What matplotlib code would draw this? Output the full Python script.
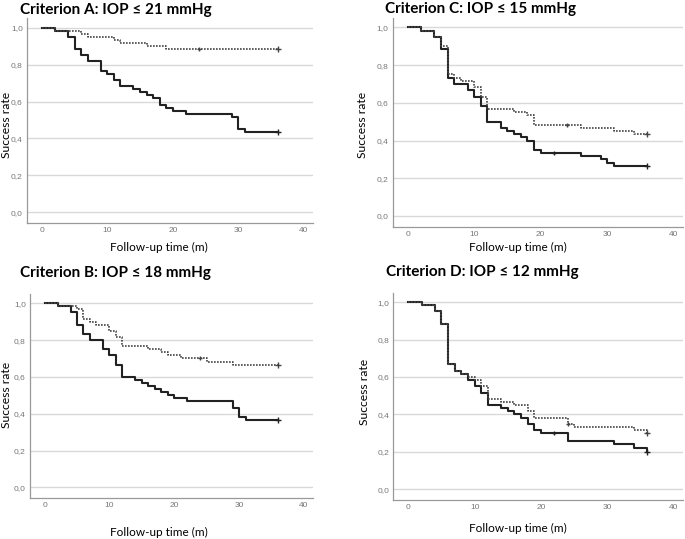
import numpy as np
import matplotlib
matplotlib.use("Agg")
import matplotlib.pyplot as plt
from matplotlib.ticker import FuncFormatter

# Kaplan-Meier step data (time in months, success rate)
a_solid_t = [0, 2, 4, 5, 6, 7, 9, 10, 11, 12, 14, 15, 16, 17, 18, 19, 20, 22, 29, 30, 31, 36]
a_solid_s = [1.0, 0.983, 0.95, 0.883, 0.85, 0.817, 0.767, 0.75, 0.717, 0.683, 0.667, 0.65,
             0.633, 0.617, 0.583, 0.567, 0.55, 0.533, 0.517, 0.45, 0.433, 0.433]
a_solid_cens = [36]
a_dot_t = [0, 2, 6, 7, 11, 12, 16, 19, 36]
a_dot_s = [1.0, 0.983, 0.967, 0.95, 0.933, 0.917, 0.9, 0.883, 0.883]
a_dot_cens = [24, 36]

b_solid_t = [0, 2, 4, 5, 6, 7, 9, 10, 11, 12, 14, 15, 16, 17, 18, 19, 20, 22, 29, 30, 31, 36]
b_solid_s = [1.0, 0.983, 0.95, 0.883, 0.833, 0.8, 0.75, 0.717, 0.667, 0.6, 0.583, 0.567,
             0.55, 0.533, 0.517, 0.5, 0.483, 0.467, 0.433, 0.383, 0.367, 0.367]
b_solid_cens = [36]
b_dot_t = [0, 2, 5, 6, 7, 8, 10, 11, 12, 16, 18, 19, 21, 25, 29, 36]
b_dot_s = [1.0, 0.983, 0.967, 0.917, 0.9, 0.883, 0.85, 0.817, 0.767, 0.75, 0.733, 0.717,
           0.7, 0.683, 0.667, 0.667]
b_dot_cens = [24, 36]

c_solid_t = [0, 2, 4, 5, 6, 7, 9, 10, 11, 12, 14, 15, 16, 17, 18, 19, 20, 26, 29, 30, 31, 36]
c_solid_s = [1.0, 0.983, 0.95, 0.883, 0.733, 0.7, 0.667, 0.633, 0.583, 0.5, 0.467, 0.45,
             0.433, 0.417, 0.4, 0.35, 0.333, 0.317, 0.3, 0.283, 0.267, 0.267]
c_solid_cens = [22, 36]
c_dot_t = [0, 2, 4, 5, 6, 7, 8, 10, 11, 12, 16, 18, 19, 26, 31, 34, 36]
c_dot_s = [1.0, 0.983, 0.95, 0.9, 0.75, 0.733, 0.717, 0.683, 0.633, 0.567, 0.55, 0.533,
           0.483, 0.467, 0.45, 0.433, 0.433]
c_dot_cens = [24, 36]

d_solid_t = [0, 2, 4, 5, 6, 7, 8, 9, 10, 11, 12, 14, 15, 16, 17, 18, 19, 20, 24, 31, 34, 36]
d_solid_s = [1.0, 0.983, 0.95, 0.883, 0.667, 0.633, 0.617, 0.583, 0.55, 0.517, 0.45, 0.433,
             0.417, 0.4, 0.383, 0.35, 0.317, 0.3, 0.26, 0.24, 0.22, 0.2]
d_solid_cens = [22, 36]
d_dot_t = [0, 2, 4, 5, 6, 7, 8, 9, 10, 11, 12, 14, 16, 18, 19, 24, 25, 34, 36]
d_dot_s = [1.0, 0.983, 0.95, 0.883, 0.667, 0.633, 0.617, 0.6, 0.583, 0.55, 0.483, 0.467,
           0.45, 0.417, 0.383, 0.35, 0.333, 0.317, 0.3]
d_dot_cens = [24, 36]

titles = ["Criterion A: IOP \u2264 21 mmHg", "Criterion B: IOP \u2264 18 mmHg",
          "Criterion C: IOP \u2264 15 mmHg", "Criterion D: IOP \u2264 12 mmHg"]
x_ticks = [0, 10, 20, 30, 40]
y_ticks = [0.0, 0.2, 0.4, 0.6, 0.8, 1.0]

W, H = 685, 539
fig = plt.figure(figsize=(W / 100, H / 100), dpi=100)
font = ["Lato", "DejaVu Sans"]


def px(x, y):
    return x / W, 1 - y / H


def step_value(t, s, at):
    i = np.searchsorted(t, at, side="right") - 1
    return s[i]


def km_panel(rect, title, title_xy, ylab_xy, xlab_xy, curves):
    ax = fig.add_axes(rect)
    for t, s, cens, solid in curves:
        if solid:
            ax.step(t, s, where="post", color="#222222", lw=1.5, zorder=3)
            col = "#222222"
        else:
            ax.step(t, s, where="post", color="#444444", lw=1.2,
                    linestyle=(0, (1, 0.8)), zorder=4)
            col = "#444444"
        # small tick for censored cases inside the follow-up, bigger cross at the end
        for c in cens:
            size = 5 if c == max(t) else 3.5
            ax.plot([c], [step_value(t, s, c)], "+", color=col, ms=size, mew=1.0, zorder=5)

    ax.set_xlim(-2.25, 41.4)
    ax.set_ylim(-0.057, 1.05)
    ax.set_xticks(x_ticks)
    ax.set_yticks(y_ticks)
    ax.yaxis.set_major_formatter(FuncFormatter(lambda v, p: f"{v:.1f}".replace(".", ",")))
    ax.tick_params(length=0, labelsize=6, labelcolor="#777777", pad=3)
    for lab in ax.get_xticklabels() + ax.get_yticklabels():
        lab.set_family("Liberation Sans")
    ax.grid(axis="y", color="#d9d9d9", lw=1.0, zorder=0)
    for sp in ["top", "right"]:
        ax.spines[sp].set_visible(False)
    for sp in ["left", "bottom"]:
        ax.spines[sp].set_color("#999999")
        ax.spines[sp].set_linewidth(0.9)

    fig.text(*px(*title_xy), title, fontsize=11, fontweight="bold", family=font,
             ha="left", va="baseline")
    fig.text(*px(*ylab_xy), "Success rate", fontsize=8.7, family=font, rotation=90,
             ha="center", va="center")
    fig.text(*px(*xlab_xy), "Follow-up time (m)", fontsize=8.5, family=font,
             ha="center", va="center")
    return ax


km_panel([27 / W, 1 - 222.7 / H, 286 / W, 204.2 / H], titles[0], (20, 14), (6, 125), (159, 247),
         [(a_solid_t, a_solid_s, a_solid_cens, True), (a_dot_t, a_dot_s, a_dot_cens, False)])
km_panel([30 / W, 1 - 498 / H, 283 / W, 204 / H], titles[1], (20, 277), (6, 395), (159, 532),
         [(b_solid_t, b_solid_s, b_solid_cens, True), (b_dot_t, b_dot_s, b_dot_cens, False)])
km_panel([392.7 / W, 1 - 226.7 / H, 290.3 / W, 208.8 / H], titles[2], (385, 13), (363, 125), (518, 247),
         [(c_solid_t, c_solid_s, c_solid_cens, True), (c_dot_t, c_dot_s, c_dot_cens, False)])
km_panel([393.3 / W, 1 - 500 / H, 289.7 / W, 207.3 / H], titles[3], (386, 276), (365, 392), (518, 528),
         [(d_solid_t, d_solid_s, d_solid_cens, True), (d_dot_t, d_dot_s, d_dot_cens, False)])

fig.savefig("out.png", dpi=100)
